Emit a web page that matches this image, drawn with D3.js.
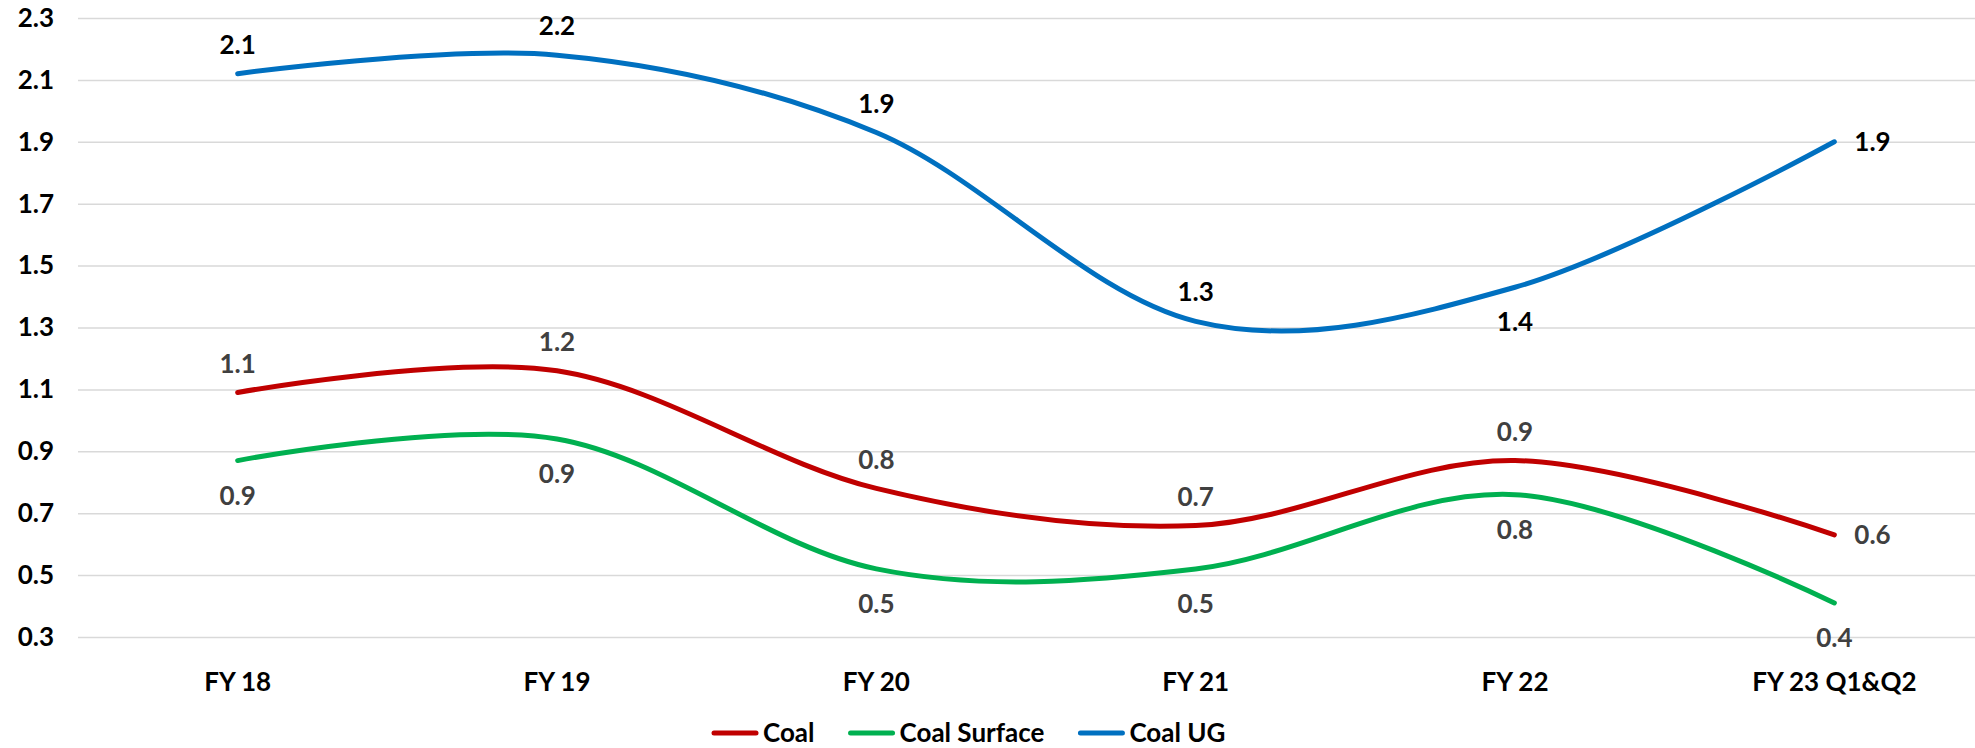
<!DOCTYPE html>
<html>
<head>
<meta charset="utf-8">
<script src="https://cdn.jsdelivr.net/npm/d3@7"></script>
<style>
  body { margin: 0; background: #fff; }
  svg { display: block; font-family: Lato, "Open Sans", sans-serif; font-weight: bold; }
</style>
</head>
<body>
<svg id="chart" width="1975" height="748"></svg>
<script>
// Data ==================================================================
var categories = ["FY 18", "FY 19", "FY 20", "FY 21", "FY 22", "FY 23 Q1&Q2"];
var coal        = [1.09, 1.16, 0.78, 0.66, 0.87, 0.63];
var coalSurface = [0.87, 0.94, 0.52, 0.52, 0.76, 0.41];
var coalUG      = [2.12, 2.18, 1.93, 1.32, 1.43, 1.90];
var yTicks = [0.3, 0.5, 0.7, 0.9, 1.1, 1.3, 1.5, 1.7, 1.9, 2.1, 2.3];

var series = [
  { name: "Coal",         values: coal,        color: "#C00000", labelColor: "#404040" },
  { name: "Coal Surface", values: coalSurface, color: "#00B050", labelColor: "#404040" },
  { name: "Coal UG",      values: coalUG,      color: "#0070C0", labelColor: "#000000" }
];

// Layout ================================================================
var svg = d3.select("#chart");
var plotLeft = 78, plotRight = 1994, plotTop = 18, plotBottom = 637;

var x = d3.scaleBand().domain(categories).range([plotLeft, plotRight]).paddingInner(0).paddingOuter(0);
var cx = function(c) { return x(c) + x.bandwidth() / 2; };
var y = d3.scaleLinear().domain([0.3, 2.3]).range([plotBottom, plotTop]);

// gridlines + y labels
var yAxis = d3.axisLeft(y)
  .tickValues(yTicks)
  .tickFormat(d3.format(".1f"))
  .tickSize(-(plotRight - plotLeft))
  .tickPadding(24);

var gy = svg.append("g")
  .attr("transform", "translate(" + plotLeft + ",0)")
  .call(yAxis);
gy.select(".domain").remove();
gy.selectAll(".tick line").attr("stroke", "#d9d9d9").attr("stroke-width", 1.5);
gy.selectAll(".tick text")
  .attr("fill", "#000")
  .style("font-size", "26px")
  .style("font-family", "Lato, sans-serif")
  .style("font-weight", "bold");

// x labels
var xAxis = d3.axisBottom(x).tickSize(0).tickPadding(0);
var gx = svg.append("g")
  .attr("transform", "translate(0," + 682 + ")")
  .call(xAxis);
gx.select(".domain").remove();
gx.selectAll(".tick text")
  .attr("fill", "#000")
  .attr("dy", "0.35em")
  .style("font-size", "26px")
  .style("font-family", "Lato, sans-serif")
  .style("font-weight", "bold");

// lines
var line = d3.line()
  .x(function(d, i) { return cx(categories[i]); })
  .y(function(d) { return y(d); })
  .curve(d3.curveCardinal.tension(0));

series.forEach(function(s) {
  svg.append("path")
    .datum(s.values)
    .attr("fill", "none")
    .attr("stroke", s.color)
    .attr("stroke-width", 5)
    .attr("stroke-linecap", "round")
    .attr("d", line);
});

// data labels
function placement(name, i) {
  var last = categories.length - 1;
  if (i === last && name !== "Coal Surface") return "right";
  if (name === "Coal Surface") return "below";
  if (name === "Coal UG" && i === 4) return "below";
  return "above";
}

series.forEach(function(s) {
  svg.append("g").selectAll("text")
    .data(s.values)
    .enter()
    .append("text")
    .attr("x", function(d, i) {
      var p = placement(s.name, i);
      return p === "right" ? cx(categories[i]) + 20 : cx(categories[i]);
    })
    .attr("y", function(d, i) {
      var p = placement(s.name, i);
      if (p === "above") return y(d) - 29;
      if (p === "below") return y(d) + 35;
      return y(d);
    })
    .attr("dy", "0.35em")
    .attr("text-anchor", function(d, i) { return placement(s.name, i) === "right" ? "start" : "middle"; })
    .attr("fill", s.labelColor)
    .style("font-size", "26px")
    .text(function(d) { return d3.format(".1f")(d); });
});

// legend
var legend = svg.append("g").attr("transform", "translate(0,733)");
var lx = 714;
series.forEach(function(s) {
  legend.append("line")
    .attr("x1", lx).attr("x2", lx + 42)
    .attr("y1", 0).attr("y2", 0)
    .attr("stroke", s.color)
    .attr("stroke-width", 5)
    .attr("stroke-linecap", "round");
  var t = legend.append("text")
    .attr("x", lx + 49)
    .attr("y", 0)
    .attr("dy", "0.35em")
    .attr("fill", "#000")
    .style("font-size", "26px")
    .text(s.name);
  lx += 49 + t.node().getComputedTextLength() + 36;
});
</script>
</body>
</html>
